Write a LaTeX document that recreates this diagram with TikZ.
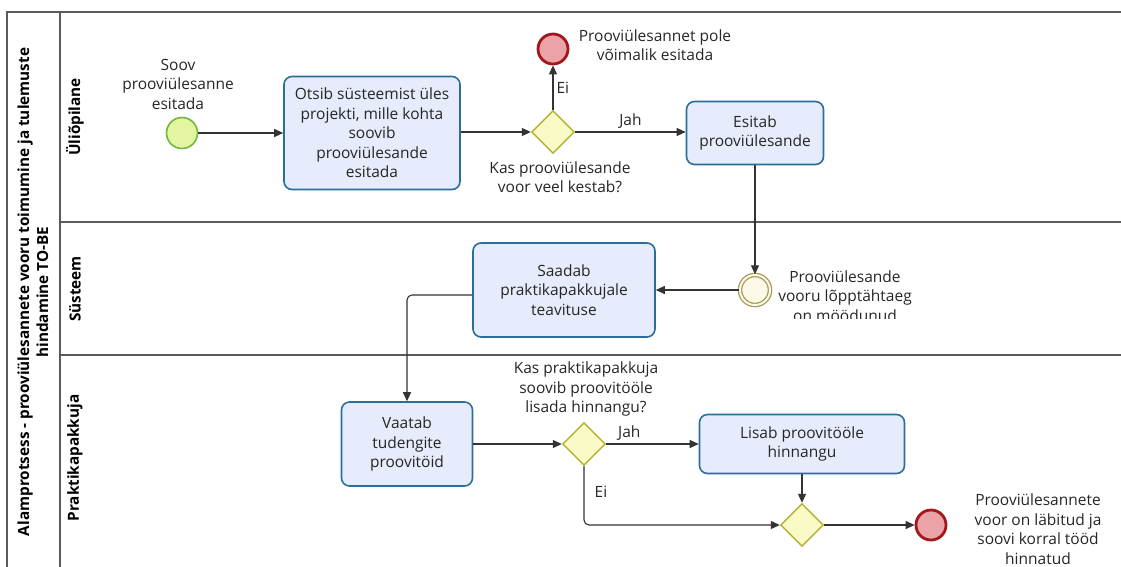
\documentclass[tikz,border=0pt]{standalone}
\usepackage{fontspec}
\setmainfont{Open Sans}
\usetikzlibrary{shapes.geometric,arrows.meta}
\definecolor{taskfill}{HTML}{E6ECFB}
\definecolor{taskline}{HTML}{2B6E9E}
\definecolor{gatefill}{HTML}{FAFAC6}
\definecolor{gateline}{HTML}{B2B232}
\definecolor{startfill}{HTML}{E3F5A0}
\definecolor{startline}{HTML}{6DBA3A}
\definecolor{endfill}{HTML}{EBA3A7}
\definecolor{endline}{HTML}{A3161C}
\definecolor{midfill}{HTML}{FDF9E8}
\definecolor{midline}{HTML}{A39D58}
\definecolor{poolline}{HTML}{5A5A5A}
\definecolor{flowline}{HTML}{333333}
\begin{document}
\begin{tikzpicture}[x=1pt,y=-1pt,
  txt/.style={font=\fontsize{15.5}{19.5}\selectfont, text=black!85, align=center, inner sep=0pt},
  task/.style={txt, draw=taskline, fill=taskfill, rounded corners=8pt, line width=1.6pt},
  gate/.style={diamond, draw=gateline, fill=gatefill, line width=1.4pt, minimum size=43pt, inner sep=0pt},
  startev/.style={circle, draw=startline, fill=startfill, line width=1.6pt, minimum size=31pt, inner sep=0pt},
  endev/.style={circle, draw=endline, fill=endfill, line width=2.8pt, minimum size=30pt, inner sep=0pt},
  midev/.style={circle, draw=midline, fill=midfill, line width=1.3pt, double=midfill, double distance=2pt, minimum size=30pt, inner sep=0pt},
  flow/.style={draw=flowline, line width=1.1pt, -{Triangle[length=9pt,width=8pt]}},
  lanetitle/.style={font=\bfseries\fontsize{15.3}{19}\selectfont, rotate=90, align=center, inner sep=0pt}
]
\useasboundingbox (0,0) rectangle (1121,566);

% pool and lanes
\draw[poolline, line width=1.4pt] (1125,12) -- (7,12) -- (7,570);
\draw[poolline, line width=1.4pt] (60,12) -- (60,570);
\draw[poolline, line width=1.2pt] (60,222) -- (1125,222);
\draw[poolline, line width=1.2pt] (60,355) -- (1125,355);
\node[lanetitle] (pool) at (33,292) {Alamprotsess - prooviülesannete vooru toimumine ja tulemuste\\hindamine TO-BE};
\node[lanetitle] (lane1) at (75,117) {Üliõpilane};
\node[lanetitle] (lane2) at (75,289) {Süsteem};
\node[lanetitle] (lane3) at (75,458) {Praktikapakkuja};

% Üliõpilane
\node[startev] (start) at (182,133) {};
\node[txt] (startlbl) at (178,84) {Soov\\prooviülesanne\\esitada};
\node[task, minimum width=176pt, minimum height=113pt] (find) at (372,133)
  {Otsib süsteemist üles\\projekti, mille kohta\\soovib\\prooviülesande\\esitada};
\node[gate] (gw1) at (553,132) {};
\node[txt] (gw1lbl) at (560,177) {Kas prooviülesande\\voor veel kestab?};
\node[endev] (end1) at (553,49) {};
\node[txt] (end1lbl) at (655,45) {Prooviülesannet pole\\võimalik esitada};
\node[task, minimum width=137pt, minimum height=63pt] (submit) at (755,133)
  {Esitab\\prooviülesande};

% Süsteem: the event label is cut off through its last line
\node[midev] (deadline) at (755,290) {};
\begin{scope}
  \clip (765,258) rectangle (940,318);
  \node[txt] (deadlinelbl) at (845,296) {Prooviülesande\\vooru lõpptähtaeg\\on möödunud};
\end{scope}
\node[task, minimum width=182pt, minimum height=94pt] (notify) at (564,290)
  {Saadab\\praktikapakkujale\\teavituse};

% Praktikapakkuja
\node[task, minimum width=131pt, minimum height=84pt] (review) at (407,444)
  {Vaatab\\tudengite\\proovitöid};
\node[gate] (gw2) at (584,444) {};
\node[txt] (gw2lbl) at (586,389) {Kas praktikapakkuja\\soovib proovitööle\\lisada hinnangu?};
\node[task, minimum width=205pt, minimum height=59pt] (grade) at (802,444)
  {Lisab proovitööle\\hinnangu};
\node[gate] (gw3) at (802,525) {};
\node[endev] (end2) at (931,525) {};
\node[txt] (end2lbl) at (1038,529) {Prooviülesannete\\voor on läbitud ja\\soovi korral tööd\\hinnatud};

% sequence flows
\draw[flow] (start) -- (find);
\draw[flow] (find.east |- gw1) -- (gw1);
\draw[flow] (gw1) -- node[txt, right, pos=0.5, xshift=3pt] {Ei} (end1);
\draw[flow] (gw1) -- node[txt, above, pos=0.5, yshift=3pt] {Jah} (submit.west |- gw1);
\draw[flow] (submit) -- (deadline);
\draw[flow] (deadline) -- (notify.east |- deadline);
\draw[flow, rounded corners=5pt] (notify.west |- 0,295) -- (407,295) -- (review);
\draw[flow] (review) -- (gw2);
\draw[flow] (gw2) -- node[txt, above, pos=0.25, yshift=3pt] {Jah} (grade);
\draw[flow] (grade) -- (gw3);
\draw[flow, rounded corners=5pt] (gw2.south) -- (584,525) -- (gw3.west);
\node[txt] (eilbl) at (601,492) {Ei};
\draw[flow] (gw3) -- (end2);
\end{tikzpicture}
\end{document}
